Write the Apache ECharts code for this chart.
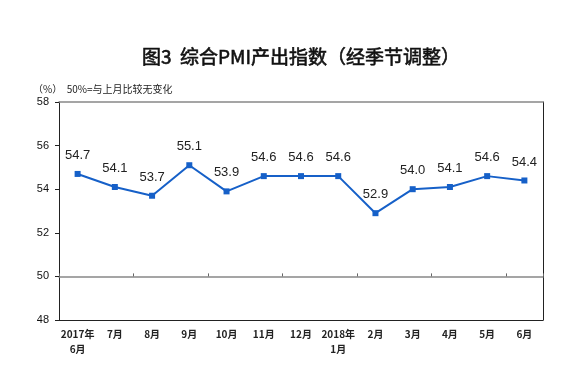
<!DOCTYPE html>
<html><head><meta charset="utf-8">
<script src="https://cdn.jsdelivr.net/npm/echarts@6/dist/echarts.min.js"></script>
<style>html,body{margin:0;padding:0;background:#fff}#c{width:580px;height:384px}</style>
</head><body><div id="c"></div>
<script>
var categories = ['2017年\n6月','7月','8月','9月','10月','11月','12月','2018年\n1月','2月','3月','4月','5月','6月'];
var values = [54.7, 54.1, 53.7, 55.1, 53.9, 54.6, 54.6, 54.6, 52.9, 54.0, 54.1, 54.6, 54.4];
var yTicks = [48, 50, 52, 54, 56, 58];
var titleText = '图3  综合PMI产出指数（经季节调整）';
var unitText = '（%）  50%=与上月比较无变化';
var refLine = 50;

var yMin = yTicks[0], yMax = yTicks[yTicks.length-1];
var gridTop = 102, gridBottom = 64, chartH = 384;
var plotH = chartH - gridTop - gridBottom;
var refOffset = -(refLine - yMin) / (yMax - yMin) * plotH;

var chart = echarts.init(document.getElementById('c'), null, {renderer:'canvas'});
chart.setOption({
  animation: false,
  backgroundColor: '#fff',
  title: [{
    text: titleText, left: 296, top: 42, textAlign: 'center',
    textStyle: {fontFamily: '"Noto Sans CJK SC"', fontSize: 19, fontWeight: 'normal', color: '#111',
      textBorderColor: '#111', textBorderWidth: 0.6}
  },{
    text: unitText, left: 28, top: 79,
    textStyle: {fontFamily: '"Noto Sans CJK SC"', fontSize: 10, fontWeight: 'normal', color: '#222'}
  }],
  grid: {left: 59, right: 37, top: gridTop, bottom: gridBottom},
  xAxis: [{
    type: 'category', data: categories, boundaryGap: true, position: 'bottom',
    axisLine: {show: true, lineStyle: {color: '#222', width: 1}},
    axisTick: {show: false},
    axisLabel: {interval: 0, margin: 7, fontFamily: '"Noto Sans CJK SC"', fontSize: 10, color: '#222', lineHeight: 15, fontWeight: 'bold'}
  },{
    type: 'category', data: categories, boundaryGap: true, position: 'top',
    axisLine: {show: true, lineStyle: {color: '#888', width: 1.5}},
    axisTick: {show: false}, axisLabel: {show: false}
  },{
    type: 'category', data: categories, boundaryGap: true, position: 'bottom', offset: refOffset,
    axisLine: {show: true, onZero: false, lineStyle: {color: '#888', width: 1.5}},
    axisTick: {show: true, inside: true, length: 3, lineStyle: {color: '#666'}},
    axisLabel: {show: false}
  }],
  yAxis: [{
    type: 'value', min: yMin, max: yMax, interval: 2, position: 'left',
    axisLine: {show: true, lineStyle: {color: '#222', width: 1}},
    axisTick: {show: true, inside: false, length: 4, lineStyle: {color: '#222'}},
    splitLine: {show: false},
    axisLabel: {margin: 10, fontFamily: '"Liberation Sans", Arial', fontSize: 11, color: '#111'}
  },{
    type: 'value', min: yMin, max: yMax, interval: 2, position: 'right',
    axisLine: {show: true, lineStyle: {color: '#222', width: 1}},
    axisTick: {show: false}, splitLine: {show: false}, axisLabel: {show: false}
  }],
  series: [{
    type: 'line', data: values, xAxisIndex: 0, yAxisIndex: 0,
    symbol: 'rect', symbolSize: 6, showAllSymbol: true,
    lineStyle: {color: '#1660c8', width: 2},
    itemStyle: {color: '#1660c8'},
    label: {show: true, position: 'top', distance: 9, formatter: function(p){return p.value.toFixed(1);},
      fontFamily: '"Liberation Sans", Arial', fontSize: 13, color: '#222'}
  }]
});
</script></body></html>
